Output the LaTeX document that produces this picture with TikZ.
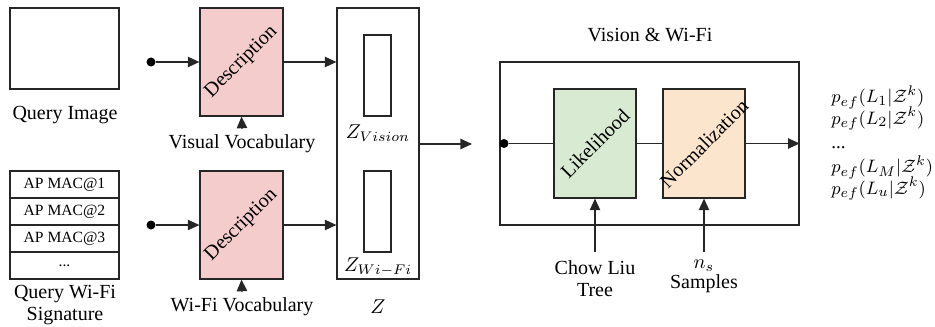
\documentclass[tikz,border=0pt]{standalone}
\usepackage[no-math]{fontspec}
\setmainfont{Liberation Serif}
\usetikzlibrary{arrows.meta}
\definecolor{descpink}{HTML}{F4CCCC}
\definecolor{likegreen}{HTML}{D9EAD3}
\definecolor{normorange}{HTML}{FCE5CD}
\tikzset{
  box/.style={draw=black!85, line width=0.6pt, inner sep=0pt},
  conn/.style={draw=black!85, line width=0.6pt},
  arr/.style={conn, -{Triangle[length=5.8pt,width=5.2pt]}},
  dotc/.style={circle, fill=black, inner sep=0pt, minimum size=4.5pt},
  lbl/.style={font=\fontsize{10}{12}\selectfont, inner sep=1pt},
  aprow/.style={box, minimum width=54.5pt, minimum height=13.5pt, font=\fontsize{7.8}{9}\selectfont},
  rot/.style={rotate=45, font=\fontsize{10}{12}\selectfont}
}
\begin{document}
\begin{tikzpicture}[x=0.5pt,y=-0.5pt]
\useasboundingbox (0,0) rectangle (935,326);
% query image
\node[box, minimum width=54.5pt, minimum height=40.5pt] (qimg) at (64.5,48.5) {};
\node[lbl] (qimgl) at (65,115) {Query Image};
% AP table
\node[aprow] (ap1) at (64.5,184.5) {AP MAC@1};
\node[aprow] (ap2) at (64.5,211.5) {AP MAC@2};
\node[aprow] (ap3) at (64.5,238.5) {AP MAC@3};
\node[aprow] (ap4) at (64.5,265.5) {...};
\node[lbl, align=center, font=\fontsize{10}{11}\selectfont] (qwl) at (65,305) {Query Wi-Fi\\Signature};
% descriptions
\node[box, fill=descpink, minimum width=41.5pt, minimum height=54pt] (d1) at (241.5,62) {};
\node[rot] at (d1.center) {Description};
\node[box, fill=descpink, minimum width=41.5pt, minimum height=54pt] (d2) at (241.5,225) {};
\node[rot] at (d2.center) {Description};
\node[lbl] (vv) at (242,144) {Visual Vocabulary};
\node[lbl] (wv) at (242,307) {Wi-Fi Vocabulary};
\coordinate (vvt) at (242,129);
\coordinate (wvt) at (242,292);
\node[dotc] (p1) at (151,62) {};
\node[dotc] (p2) at (151,225) {};
\draw[arr] (p1) -- (d1.west);
\draw[arr] (p2) -- (d2.west);
\draw[arr] (vvt) -- (d1.south);
\draw[arr] (wvt) -- (d2.south);
% Z box
\node[box, minimum width=41pt, minimum height=135.5pt] (zb) at (378,143.5) {};
\node[box, minimum width=13.5pt, minimum height=40.5pt] (zv) at (377.5,75.5) {};
\node[box, minimum width=13.5pt, minimum height=40.5pt] (zw) at (377.5,211.5) {};
\node[lbl] at (378,133) {$Z_{Vision}$};
\node[lbl] at (378,267) {$Z_{Wi-Fi}$};
\node[lbl] at (378,307) {$Z$};
\draw[arr] (d1.east) -- (d1.east -| zb.west);
\draw[arr] (d2.east) -- (d2.east -| zb.west);
\coordinate (zend) at (472,144);
\draw[arr] (zb.east |- zend) -- (zend);
% big box
\node[box, minimum width=149.5pt, minimum height=81.5pt] (bb) at (649.5,143.5) {};
\node[lbl] at (650,35) {Vision \& Wi-Fi};
\node[dotc] (p3) at (504,143.5) {};
\node[box, fill=likegreen, minimum width=41pt, minimum height=54.5pt] (lk) at (595,143.5) {};
\node[rot] at (lk.center) {Likelihood};
\node[box, fill=normorange, minimum width=41pt, minimum height=54.5pt] (nm) at (704,143.5) {};
\node[rot] at (nm.center) {Normalization};
\draw[conn] (p3) -- (lk.west);
\draw[conn] (lk.east) -- (nm.west);
\draw[arr] (nm.east) -- (bb.east);
\node[lbl, align=center, font=\fontsize{10}{11}\selectfont] (clt) at (595,279) {Chow Liu\\Tree};
\node[lbl, align=center, font=\fontsize{10}{10}\selectfont] (nss) at (704,276) {$n_s$\\Samples};
\coordinate (c1) at (595,252);
\coordinate (c2) at (704,252);
\draw[arr] (c1) -- (lk.south);
\draw[arr] (c2) -- (nm.south);
% outputs
\node[lbl, anchor=west, align=left, font=\fontsize{9.5}{11.5}\selectfont] (out) at (829,143) {$p_{ef}(L_1|\mathcal{Z}^k)$\\[-2.2pt]$p_{ef}(L_2|\mathcal{Z}^k)$\\[0.7pt]...\\[0.7pt]$p_{ef}(L_M|\mathcal{Z}^k)$\\[-2.2pt]$p_{ef}(L_u|\mathcal{Z}^k)$};
\end{tikzpicture}
\end{document}
